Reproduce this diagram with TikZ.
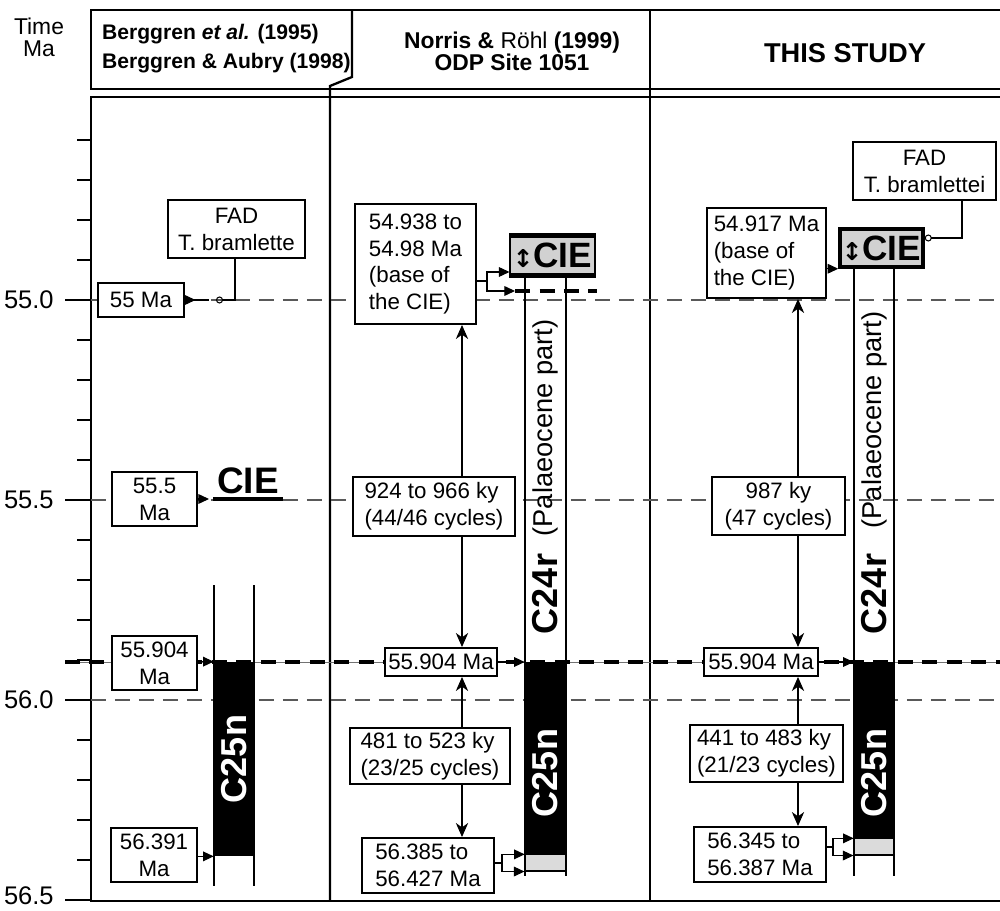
\documentclass[tikz,border=0pt]{standalone}
\usepackage{fontspec}
\setmainfont{Liberation Sans}
\newfontfamily\symfont{DejaVu Sans}
\usetikzlibrary{arrows.meta}

\begin{document}
\begin{tikzpicture}[x=0.02cm,y=-0.02cm,
  sz/.style 2 args={minimum width=#1*0.02cm,minimum height=#2*0.02cm},
  datebox/.style={draw,line width=1.1pt,fill=white,inner sep=1pt,align=center,font=\fontsize{12.7}{15.3}\selectfont},
  gridline/.style={black!65,line width=0.6pt,dash pattern=on 0.3cm off 0.18cm},
  magline/.style={line width=2.4pt,dash pattern=on 0.3cm off 0.19cm},
  barside/.style={line width=0.6pt},
  spanline/.style={line width=0.6pt,{Stealth[length=8pt,width=7pt,inset=2.5pt]}-{Stealth[length=8pt,width=7pt,inset=2.5pt]}},
  tip/.style={line width=0.6pt,-{Triangle[length=6pt,width=5.5pt]}},
  ciebox/.style={fill=black!18,inner sep=0pt,font=\fontsize{20}{20}\selectfont\bfseries},
  chron/.style={rotate=90,inner sep=0pt,font=\fontsize{20.5}{20.5}\selectfont\bfseries},
  part/.style={rotate=90,inner sep=0pt,font=\fontsize{15.5}{15.5}\selectfont}
]
\useasboundingbox (0,0) rectangle (1000,911);

\draw[line width=1.3pt] (1000,10) -- (91,10) -- (91,89) -- (1000,89);
\draw[line width=1.3pt] (1000,97) -- (91,97) -- (91,901) -- (1000,901);
\draw[line width=1.3pt] (352,10) -- (352,77) -- (330,86) -- (330,901);
\draw[line width=1.3pt] (650,10) -- (650,901);

\foreach \y in {140,180,...,860} \draw[line width=0.8pt] (77,\y) -- (91,\y);
\foreach \y in {300,500,700,900} \draw[line width=0.8pt] (65,\y) -- (91,\y);
\foreach \y/\t in {300/55.0,500/55.5,700/56.0,896/56.5}
  \node[anchor=east,inner sep=0pt,font=\fontsize{14.5}{14.5}\selectfont] (ax\y) at (54,\y) {\t};
\foreach \y in {300,500,700} \draw[gridline] (91,\y) -- (1000,\y);
\draw[black!55,line width=0.5pt] (65,662) -- (1000,662);
\draw[magline] (65,662) -- (1000,662);
\draw[magline] (515,291) -- (597,291);

\node[font=\fontsize{13}{12.5}\selectfont,align=center] (timelab) at (39,37) {Time\\Ma};
\node[anchor=west,align=left,font=\fontsize{12}{16.5}\selectfont\bfseries] (hdA) at (96,49) {Berggren \textit{et al.} (1995)\\Berggren \& Aubry (1998)};
\node[align=center,font=\fontsize{13}{12.5}\selectfont\bfseries] (hdB) at (512,51) {Norris \& {\mdseries Röhl} (1999)\\ODP Site 1051};
\node[font=\fontsize{15.5}{15.5}\selectfont\bfseries] (hdC) at (845,53) {THIS STUDY};

\draw[barside] (214,585) -- (214,886);
\draw[barside] (254,585) -- (254,886);
\node[fill=black,inner sep=0pt,sz={40}{194}] (c25A) at (234,759) {};
\node[chron,white] (c25Alab) at (234,759) {C25n};

\node[datebox,sz={137}{58}] (fadA) at (236.5,229) {FAD\\T. bramlette};
\node[datebox,sz={86}{34}] (b55) at (141,300) {55 Ma};
\coordinate (fadAknee) at (235,300);
\coordinate (fadAend) at (216,300);
\draw[line width=0.6pt,-{Circle[open,length=4pt]}] (fadA.south -| fadAknee) -- (fadAknee) -- (fadAend);
\draw[line width=0.6pt,{Triangle[reversed,length=6pt,width=5.5pt]}-,shorten >=4pt] (b55.east) -- (fadAend);

\node[datebox,sz={85}{54}] (b555) at (154.5,499) {55.5\\Ma};
\node[anchor=south,inner sep=0pt,font=\fontsize{21}{21}\selectfont\bfseries] (cieA) at (248,494) {CIE};
\draw[line width=2.3pt] ([xshift=-2pt,yshift=-3pt]cieA.south west) -- ([xshift=2pt,yshift=-3pt]cieA.south east);
\coordinate (cieAtip) at (209,499);
\draw[tip] (b555.east) -- (cieAtip);

\node[datebox,sz={85}{54}] (b5590A) at (154.5,663) {55.904\\Ma};
\draw[tip] (b5590A.east |- c25A.north west) -- (c25A.north west);
\node[datebox,sz={86}{54}] (b56391) at (154,855) {56.391\\Ma};
\draw[tip] (b56391.east |- c25A.south west) -- (c25A.south west);

\draw[barside] (525,275) -- (525,876);
\draw[barside] (566,275) -- (566,876);
\node[fill=black,inner sep=0pt,sz={41}{192}] (c25B) at (545.5,758) {};
\node[draw,line width=0.6pt,fill=black!14,inner sep=0pt,sz={41}{17}] (grB) at (545.5,862.5) {};
\node[chron,white] (c25Blab) at (545.5,773) {C25n};
\node[chron] (c24Blab) at (545.5,594) {C24r};
\node[part] (palB) at (545.5,428) {(Palaeocene part)};
\node[ciebox,draw,line width=0.6pt,sz={85}{39}] (cieB) at (552.5,255.5) {{\symfont\fontsize{14}{14}\selectfont ↕}CIE};
\draw[line width=2.8pt] (cieB.north west) -- (cieB.north east);
\draw[line width=2.8pt] (cieB.south west) -- (cieB.south east);

\node[datebox,align=left,sz={121}{120}] (baseB) at (415.5,264) {54.938 to\\54.98 Ma\\(base of\\the CIE)};
\coordinate (fkB) at (487,281);
\coordinate (fkBup) at (487,272);
\coordinate (magB) at (515,291);
\draw[tip] (baseB.east |- fkB) -| (fkBup) -- (fkBup -| cieB.west);
\draw[tip] (fkB) |- (magB);

\node[datebox,sz={112}{28}] (b5590B) at (441,662) {55.904 Ma};
\draw[tip] (b5590B.east) -- (b5590B.east -| c25B.west);
\node[datebox,align=left,sz={132}{55}] (bLowB) at (428,865.5) {56.385 to\\56.427 Ma};
\coordinate (fkB2) at (502,863);
\draw[tip] (bLowB.east |- fkB2) -| (fkB2 |- c25B.south) -- (c25B.south west);
\draw[tip] (fkB2) |- (grB.south west);
\coordinate (lnB) at (462,0);
\draw[spanline] (baseB.south -| lnB) -- (b5590B.north -| lnB);
\draw[spanline] (b5590B.south -| lnB) -- (bLowB.north -| lnB);
\node[datebox,align=left,sz={162}{59}] (r924) at (434,506.5) {924 to 966 ky\\(44/46 cycles)};
\node[datebox,align=left,sz={160}{56}] (r481) at (430,756) {481 to 523 ky\\(23/25 cycles)};

\draw[barside] (854,267) -- (854,876);
\draw[barside] (894,267) -- (894,876);
\node[fill=black,inner sep=0pt,sz={40}{176}] (c25C) at (874,750) {};
\node[draw,line width=0.6pt,fill=black!14,inner sep=0pt,sz={40}{17}] (grC) at (874,846.5) {};
\node[chron,white] (c25Clab) at (874,773) {C25n};
\node[chron] (c24Clab) at (874,594) {C24r};
\node[part] (palC) at (874,420) {(Palaeocene part)};
\node[ciebox,draw,line width=2pt,sz={83}{38}] (cieC) at (881.5,248) {{\symfont\fontsize{14}{14}\selectfont ↕}CIE};

\node[datebox,sz={143}{58}] (fadC) at (924.5,171) {FAD\\T. bramlettei};
\coordinate (fadCknee) at (962,238);
\draw[line width=0.6pt,-{Circle[open,length=4pt]}] (fadC.south -| fadCknee) -- (fadCknee) -- (fadCknee -| cieC.east);
\node[datebox,align=left,sz={119}{90}] (baseC) at (766.5,253) {54.917 Ma\\(base of\\the CIE)};
\draw[tip] (baseC.east |- cieC.south) -- (cieC.south west);

\node[datebox,sz={114}{28}] (b5590C) at (761,662) {55.904 Ma};
\draw[tip] (b5590C.east) -- (b5590C.east -| c25C.west);
\node[datebox,align=left,sz={132}{55}] (bLowC) at (760,854.5) {56.345 to\\56.387 Ma};
\coordinate (fkC2) at (833,847);
\draw[tip] (bLowC.east |- fkC2) -| (fkC2 |- c25C.south) -- (c25C.south west);
\draw[tip] (fkC2) |- (grC.south west);
\coordinate (lnC) at (798,0);
\draw[spanline] (baseC.south -| lnC) -- (b5590C.north -| lnC);
\draw[spanline] (b5590C.south -| lnC) -- (bLowC.north -| lnC);
\node[datebox,sz={133}{58}] (r987) at (778.5,506) {987 ky\\(47 cycles)};
\node[datebox,align=left,sz={153}{57}] (r441) at (766.5,753.5) {441 to 483 ky\\(21/23 cycles)};
\end{tikzpicture}
\end{document}
